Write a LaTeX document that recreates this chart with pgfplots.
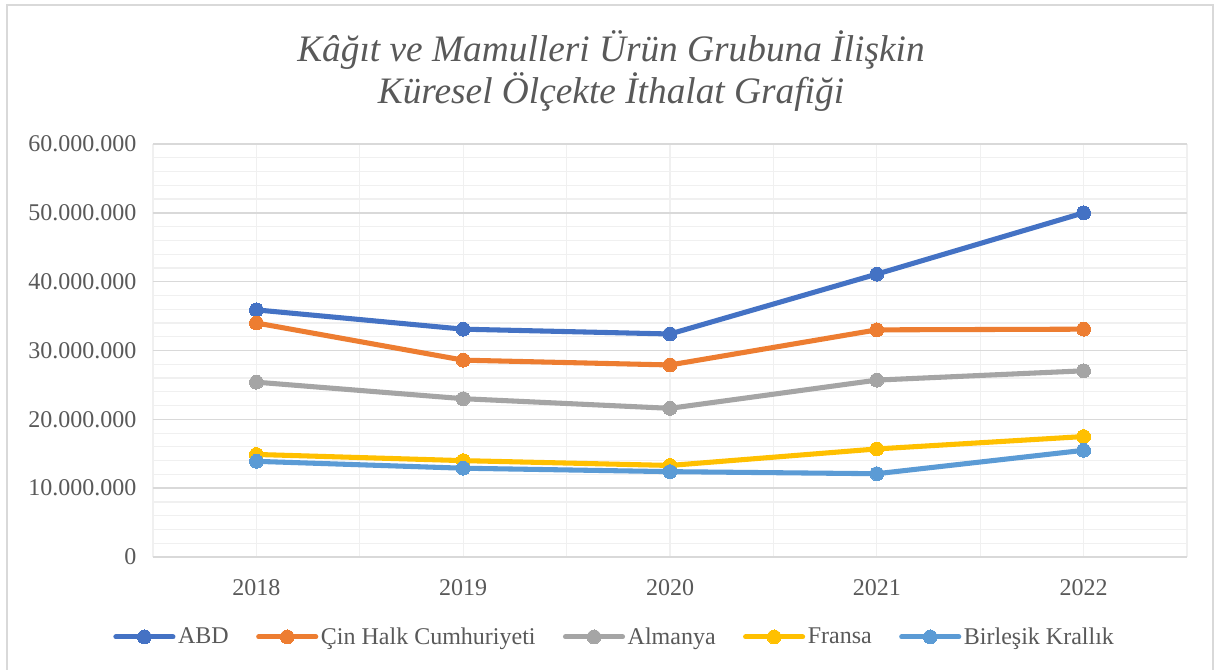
\documentclass[border=0pt]{standalone}
\usepackage{pgfplots}
\pgfplotsset{compat=1.18}
\usepackage{fontspec}
\setmainfont{Liberation Serif}
\definecolor{txt}{HTML}{595959}
\definecolor{gmaj}{HTML}{D9D9D9}
\definecolor{gmin}{HTML}{F0F0F0}
\definecolor{cA}{HTML}{4472C4}
\definecolor{cB}{HTML}{ED7D31}
\definecolor{cC}{HTML}{A5A5A5}
\definecolor{cD}{HTML}{FFC000}
\definecolor{cE}{HTML}{5B9BD5}
\begin{document}
\begin{tikzpicture}
\begin{scope}[x=0.75pt,y=0.75pt]
\useasboundingbox (0,0) rectangle (1217,669);
\fill[white] (0,0) rectangle (1217,669);
\draw[gmaj,line width=1.5pt] (7,-5) -- (7,664) -- (1213,664) -- (1213,-5);
\node[anchor=base,text=txt,font=\fontsize{28}{32}\selectfont\itshape,inner sep=0pt] at (611,607) {Kâğıt ve Mamulleri Ürün Grubuna İlişkin};
\node[anchor=base,text=txt,font=\fontsize{28}{32}\selectfont\itshape,inner sep=0pt] at (611,565) {Küresel Ölçekte İthalat Grafiği};
\end{scope}
\begin{axis}[
  scale only axis,
  width=775.5pt, height=309.75pt,
  at={(114.75pt,84pt)}, anchor=south west,
  xmin=-0.5, xmax=4.5, ymin=0, ymax=60000000,
  xtick={0,1,2,3,4},
  xticklabels={2018,2019,2020,2021,2022},
  minor xtick={-0.5,0.5,1.5,2.5,3.5,4.5},
  ytick={0,10000000,20000000,30000000,40000000,50000000,60000000},
  minor ytick={2000000,4000000,6000000,8000000,12000000,14000000,16000000,18000000,22000000,24000000,26000000,28000000,32000000,34000000,36000000,38000000,42000000,44000000,46000000,48000000,52000000,54000000,56000000,58000000},
  scaled y ticks=false,
  /pgf/number format/fixed,
  /pgf/number format/precision=0,
  /pgf/number format/1000 sep={.},
  /pgf/number format/assume math mode=true,
  major tick length=0pt, minor tick length=0pt,
  axis line style={draw=none},
  ymajorgrids, yminorgrids, xmajorgrids, xminorgrids,
  major grid style={gmaj, line width=1.1pt},
  minor grid style={gmin, line width=0.9pt},
  x grid style={gmin, line width=0.9pt},
  tick label style={text=txt, font=\fontsize{18}{20}\selectfont},
  yticklabel style={xshift=-9pt},
  xticklabel style={yshift=-13pt},
  clip=false,
  legend columns=5,
  legend style={at={(0.4468,-0.1935)}, anchor=center, draw=none, fill=none, text=txt,
    font=\fontsize{18}{20}\selectfont,
    /tikz/every even column/.append style={column sep=18.5pt},
    /tikz/every odd column/.append style={column sep=0pt}},
  legend image code/.code={\draw[mark repeat=2,mark phase=2,#1] plot coordinates {(0pt,0pt) (21.4pt,0pt) (42.8pt,0pt)};},
  every axis plot/.append style={line width=3.8pt, mark=*, mark size=5.2pt, line cap=round, line join=round},
]
\addplot[cA, mark options={fill=cA, draw=cA, line width=0pt}] coordinates {(0,35900000) (1,33100000) (2,32400000) (3,41100000) (4,50000000)};
\addlegendentry{ABD}
\addplot[cB, mark options={fill=cB, draw=cB, line width=0pt}] coordinates {(0,34000000) (1,28600000) (2,27900000) (3,33000000) (4,33100000)};
\addlegendentry{Çin Halk Cumhuriyeti}
\addplot[cC, mark options={fill=cC, draw=cC, line width=0pt}] coordinates {(0,25400000) (1,23000000) (2,21600000) (3,25700000) (4,27050000)};
\addlegendentry{Almanya}
\addplot[cD, mark options={fill=cD, draw=cD, line width=0pt}] coordinates {(0,14900000) (1,14000000) (2,13300000) (3,15700000) (4,17500000)};
\addlegendentry{Fransa}
\addplot[cE, mark options={fill=cE, draw=cE, line width=0pt}] coordinates {(0,13900000) (1,12900000) (2,12400000) (3,12100000) (4,15500000)};
\addlegendentry{Birleşik Krallık}
\end{axis}
\end{tikzpicture}
\end{document}
